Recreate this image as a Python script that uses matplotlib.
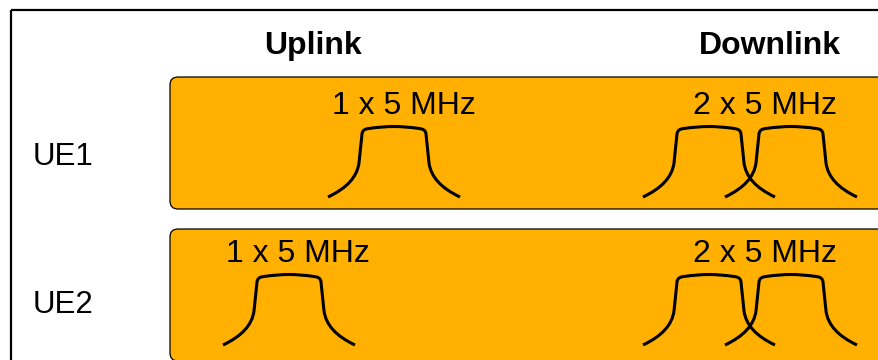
import matplotlib.pyplot as plt
from matplotlib.path import Path
from matplotlib.patches import PathPatch, FancyBboxPatch, Rectangle

# diagram content
ue_labels = ['UE1', 'UE2']
link_headers = ['Uplink', 'Downlink']
ul_carriers = [1, 1]
dl_carriers = [2, 2]
carrier_bw_mhz = [5, 5]

# layout (pixel coordinates, y downwards)
header_x = [313, 770]
header_y = 46
row_top = [77, 229]
row_height = 132
ue_label_y = [157, 305]
carrier_base = [197, 345]
label_y = [106, 254]
ul_center = [394, 289]
ul_label_x = [404, 298]
dl_first = 709
dl_spacing = 82
dl_label_x = 765

ORANGE = '#FFB000'
FONT = 'Liberation Sans'


def carrier_path(cx, base):
    # one carrier: skirt, steep side, rounded shoulder, flat top, mirrored
    left = [(-66, 0), (-47, -9), (-37, -20), (-35, -34), (-32, -63),
            (-31.5, -67), (-29, -68), (-25, -68.5), (-12, -70.5), (0, -70.5)]
    lcodes = [Path.MOVETO, Path.CURVE4, Path.CURVE4, Path.CURVE4, Path.LINETO,
              Path.CURVE4, Path.CURVE4, Path.CURVE4, Path.CURVE3, Path.CURVE3]
    right = [(-x, y) for x, y in reversed(left[:-1])]
    rcodes = [Path.CURVE3, Path.CURVE3, Path.CURVE4, Path.CURVE4, Path.CURVE4,
              Path.LINETO, Path.CURVE4, Path.CURVE4, Path.CURVE4]
    verts = [(cx + x, base + y) for x, y in left + right]
    return Path(verts, lcodes + rcodes)


fig = plt.figure(figsize=(8.79, 3.6), dpi=100)
ax = fig.add_axes([0, 0, 1, 1])
ax.set_xlim(0, 879)
ax.set_ylim(360, 0)
ax.axis('off')

# outer frame (continues past the right and bottom edge)
ax.add_patch(Rectangle((11, 10), 950, 400, fill=False, ec='black', lw=1.6))

for i, name in enumerate(link_headers):
    ax.text(header_x[i], header_y, name, ha='center', va='center',
            fontsize=23, fontweight='bold', family=FONT)

for r, ue in enumerate(ue_labels):
    ax.add_patch(FancyBboxPatch((170, row_top[r]), 800, row_height,
                                boxstyle='round,pad=0,rounding_size=8',
                                fc=ORANGE, ec='black', lw=0.9))
    ax.text(33, ue_label_y[r], ue, ha='left', va='center',
            fontsize=22.5, family=FONT)

    # uplink carriers
    for k in range(ul_carriers[r]):
        ax.add_patch(PathPatch(carrier_path(ul_center[r] + k * dl_spacing, carrier_base[r]),
                               fill=False, lw=2.2, ec='black', capstyle='butt'))
    ax.text(ul_label_x[r], label_y[r], f'{ul_carriers[r]} x {carrier_bw_mhz[r]} MHz',
            ha='center', va='center', fontsize=23, family=FONT)

    # downlink carriers
    for k in range(dl_carriers[r]):
        ax.add_patch(PathPatch(carrier_path(dl_first + k * dl_spacing, carrier_base[r]),
                               fill=False, lw=2.2, ec='black', capstyle='butt'))
    ax.text(dl_label_x, label_y[r], f'{dl_carriers[r]} x {carrier_bw_mhz[r]} MHz',
            ha='center', va='center', fontsize=23, family=FONT)

fig.savefig('out.png', dpi=100)
